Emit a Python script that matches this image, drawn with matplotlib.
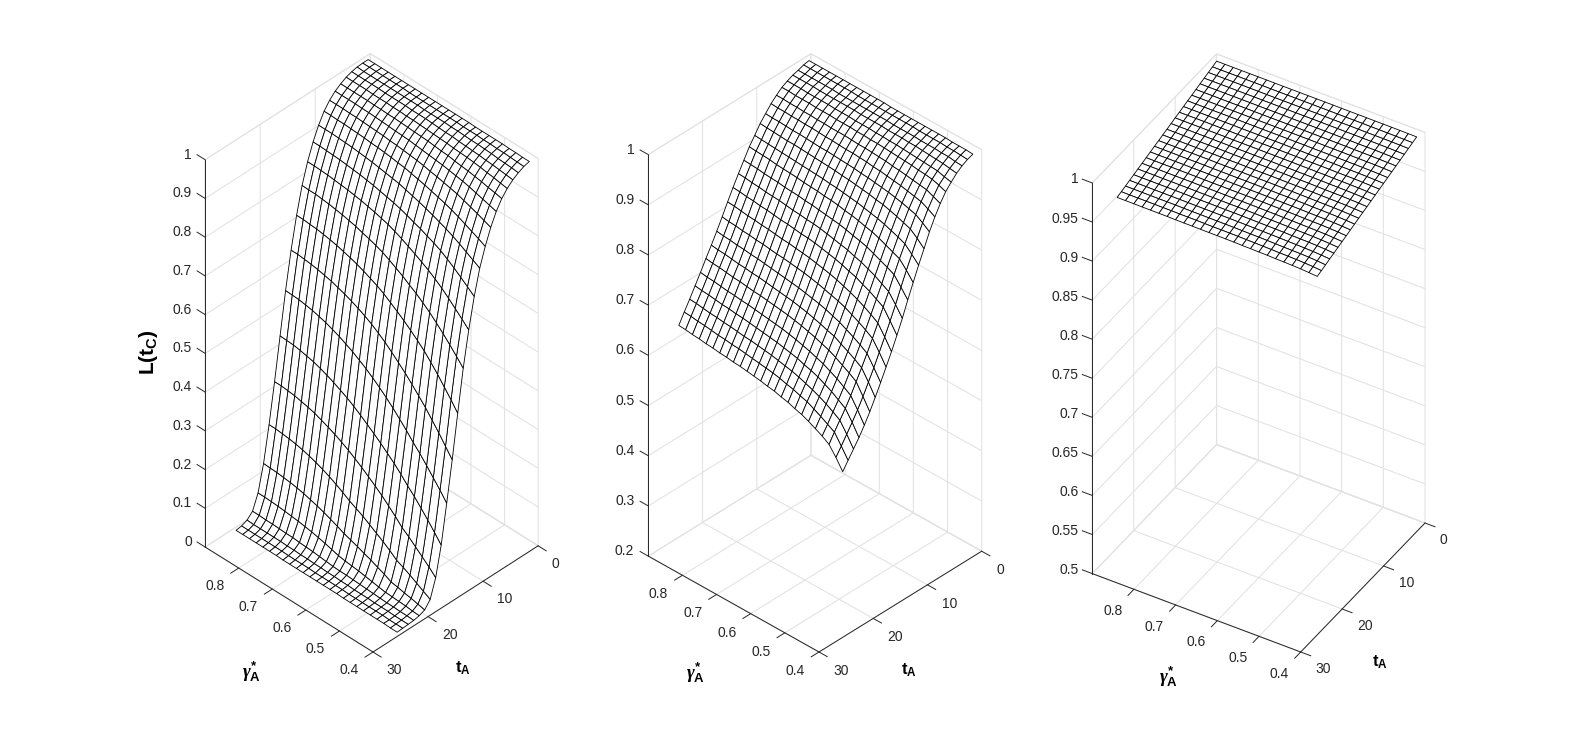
import numpy as np
import matplotlib
matplotlib.use("Agg")
import matplotlib.pyplot as plt
from matplotlib.artist import Artist
from matplotlib.transforms import Affine2D
from mpl_toolkits.mplot3d import proj3d

plt.rcParams['font.family'] = ['Liberation Sans', 'DejaVu Sans']
plt.rcParams['mathtext.fontset'] = 'custom'
plt.rcParams['mathtext.rm'] = 'Liberation Sans'
plt.rcParams['mathtext.bf'] = 'Liberation Sans:bold'
plt.rcParams['mathtext.it'] = 'Liberation Serif:italic:bold'

gamma_A = [0.41,0.43,0.45,0.47,0.49,0.51,0.53,0.55,0.57,0.59,0.61,0.63,0.65,0.67,0.69,0.71,0.73,0.75,0.77,0.79,0.81,0.83,0.85,0.87,0.89]
t_A = [1,2,3,4,5,6,7,8,9,10,11,12,13,14,15,16,17,18,19,20,21,22,23,24,25]

# rows: gamma_A, columns: t_A
L_left = [
[.996,.992,.985,.976,.963,.946,.922,.890,.850,.803,.739,.662,.572,.465,.354,.251,.152,.077,.030,.012,.006,.003,.002,.001,.000],
[.996,.993,.987,.978,.966,.950,.927,.897,.859,.813,.753,.679,.592,.489,.378,.274,.174,.094,.040,.016,.007,.004,.002,.001,.000],
[.997,.994,.988,.980,.969,.953,.932,.904,.867,.823,.767,.695,.611,.511,.402,.295,.195,.109,.050,.020,.009,.004,.002,.001,.001],
[.997,.995,.989,.982,.971,.957,.937,.910,.875,.833,.780,.711,.629,.533,.424,.316,.215,.124,.060,.023,.010,.005,.003,.002,.001],
[.998,.995,.991,.983,.974,.960,.942,.916,.883,.842,.792,.726,.646,.553,.446,.336,.234,.139,.069,.027,.011,.005,.003,.002,.001],
[.998,.996,.992,.985,.976,.963,.946,.922,.890,.850,.803,.739,.662,.572,.465,.354,.251,.152,.077,.030,.012,.006,.003,.002,.001],
[.998,.996,.993,.986,.978,.965,.949,.926,.896,.857,.812,.751,.676,.588,.484,.374,.270,.170,.091,.039,.015,.007,.004,.002,.001],
[.998,.997,.993,.987,.979,.967,.952,.930,.901,.864,.819,.761,.689,.603,.502,.392,.287,.186,.103,.046,.018,.008,.004,.002,.001],
[.998,.997,.994,.988,.980,.970,.955,.934,.906,.870,.827,.771,.700,.617,.518,.410,.302,.202,.114,.054,.021,.009,.004,.002,.001],
[.999,.997,.995,.990,.982,.971,.957,.937,.911,.876,.833,.780,.712,.630,.534,.426,.317,.216,.125,.060,.024,.010,.005,.003,.002],
[.999,.998,.995,.990,.983,.973,.959,.941,.915,.881,.840,.789,.722,.642,.549,.441,.331,.229,.136,.067,.026,.011,.005,.003,.002],
[.999,.998,.996,.991,.984,.975,.961,.944,.919,.886,.846,.797,.732,.654,.562,.455,.344,.242,.145,.073,.028,.011,.006,.003,.002],
[.999,.998,.996,.992,.985,.976,.963,.946,.923,.891,.851,.804,.741,.664,.574,.468,.357,.254,.154,.079,.031,.012,.006,.003,.002],
[.999,.998,.996,.993,.986,.977,.965,.948,.925,.894,.855,.809,.748,.672,.584,.479,.369,.265,.165,.087,.036,.014,.007,.003,.002],
[.999,.998,.996,.993,.987,.978,.966,.950,.928,.897,.859,.814,.754,.680,.593,.490,.380,.275,.175,.094,.041,.016,.007,.004,.002],
[.999,.998,.997,.993,.987,.979,.967,.951,.930,.900,.863,.818,.759,.687,.601,.499,.389,.284,.184,.101,.045,.018,.008,.004,.002],
[.999,.998,.997,.994,.988,.980,.968,.953,.932,.903,.866,.822,.765,.693,.608,.508,.398,.292,.192,.107,.049,.019,.008,.004,.002],
[.999,.998,.997,.994,.988,.980,.969,.954,.933,.905,.869,.825,.769,.698,.614,.515,.406,.299,.199,.112,.052,.020,.009,.004,.002],
[.999,.999,.997,.994,.989,.981,.970,.955,.935,.907,.871,.828,.773,.703,.620,.522,.413,.306,.205,.117,.055,.022,.009,.005,.003],
[.999,.999,.997,.994,.989,.981,.971,.956,.936,.909,.873,.830,.776,.707,.624,.527,.419,.311,.210,.121,.057,.022,.010,.005,.003],
[.999,.999,.997,.995,.989,.982,.971,.957,.937,.910,.875,.832,.779,.710,.628,.532,.423,.315,.214,.124,.059,.023,.010,.005,.003],
[.999,.999,.997,.995,.990,.982,.972,.957,.938,.911,.876,.834,.781,.713,.631,.535,.427,.319,.217,.126,.061,.024,.010,.005,.003],
[.999,.999,.997,.995,.990,.982,.972,.958,.938,.912,.877,.835,.783,.714,.633,.538,.430,.321,.219,.128,.062,.024,.010,.005,.003],
[.999,.999,.997,.995,.990,.982,.972,.958,.939,.912,.878,.836,.783,.716,.635,.539,.431,.323,.221,.129,.063,.025,.010,.005,.003],
[.999,.999,.998,.995,.990,.982,.972,.958,.939,.912,.878,.836,.784,.716,.635,.540,.432,.323,.221,.130,.063,.025,.011,.005,.003],
]

L_middle = [
[.994,.990,.984,.976,.965,.953,.936,.916,.893,.866,.840,.812,.784,.754,.727,.701,.677,.653,.630,.608,.588,.570,.554,.538,.522],
[.995,.991,.985,.978,.968,.958,.942,.924,.903,.879,.854,.829,.802,.774,.748,.723,.699,.675,.653,.631,.611,.593,.576,.559,.543],
[.995,.992,.987,.980,.972,.962,.948,.931,.912,.890,.867,.844,.819,.792,.768,.743,.719,.696,.674,.653,.632,.613,.596,.579,.561],
[.995,.992,.987,.981,.973,.964,.950,.934,.916,.895,.873,.850,.826,.800,.776,.752,.728,.705,.683,.662,.641,.622,.605,.587,.570],
[.996,.993,.988,.982,.974,.965,.952,.937,.920,.900,.878,.856,.832,.808,.784,.760,.736,.713,.691,.670,.650,.631,.613,.595,.577],
[.996,.993,.988,.983,.975,.967,.954,.940,.923,.904,.883,.862,.838,.814,.790,.767,.743,.720,.698,.678,.657,.638,.620,.602,.584],
[.996,.993,.988,.984,.976,.968,.956,.942,.926,.908,.887,.867,.844,.820,.797,.773,.750,.727,.706,.685,.664,.645,.626,.609,.590],
[.996,.993,.989,.984,.977,.969,.957,.944,.928,.910,.890,.870,.848,.824,.801,.778,.755,.732,.710,.690,.669,.650,.631,.613,.594],
[.996,.994,.989,.985,.978,.970,.959,.946,.930,.913,.893,.874,.851,.829,.806,.783,.759,.737,.715,.695,.674,.654,.636,.618,.599],
[.996,.994,.989,.985,.978,.971,.960,.947,.932,.915,.896,.877,.855,.832,.810,.787,.763,.741,.719,.699,.678,.659,.640,.621,.602],
[.996,.994,.989,.985,.979,.972,.961,.949,.933,.917,.898,.879,.858,.835,.813,.790,.767,.744,.723,.703,.682,.662,.643,.625,.606],
[.996,.994,.990,.986,.979,.972,.962,.950,.935,.919,.900,.882,.860,.838,.816,.793,.770,.747,.726,.706,.685,.665,.646,.628,.608],
[.996,.994,.990,.986,.980,.973,.962,.951,.936,.920,.902,.884,.862,.841,.819,.796,.773,.750,.729,.709,.688,.668,.649,.630,.611],
[.997,.994,.990,.986,.980,.973,.963,.951,.937,.922,.903,.885,.864,.843,.821,.798,.775,.752,.731,.711,.690,.670,.651,.632,.613],
[.997,.994,.990,.986,.980,.974,.964,.952,.938,.923,.905,.887,.866,.844,.822,.800,.777,.754,.733,.713,.692,.672,.653,.634,.615],
[.997,.994,.990,.987,.981,.974,.964,.953,.939,.924,.906,.888,.867,.846,.824,.802,.779,.756,.735,.715,.694,.674,.655,.636,.617],
[.997,.994,.990,.987,.981,.974,.964,.953,.939,.925,.907,.889,.869,.847,.826,.803,.780,.758,.737,.717,.696,.676,.656,.638,.618],
[.997,.995,.990,.987,.981,.975,.965,.954,.940,.926,.908,.891,.870,.849,.827,.805,.782,.760,.739,.718,.698,.678,.658,.639,.620],
[.997,.995,.990,.987,.982,.975,.965,.955,.941,.927,.909,.892,.871,.851,.829,.807,.784,.762,.740,.720,.699,.679,.660,.641,.621],
[.997,.995,.991,.987,.982,.975,.966,.955,.942,.928,.910,.893,.873,.852,.831,.808,.785,.763,.742,.722,.701,.681,.661,.642,.623],
[.997,.995,.991,.987,.982,.976,.966,.956,.942,.928,.911,.894,.874,.853,.832,.810,.787,.765,.743,.723,.702,.682,.663,.644,.624],
[.997,.995,.991,.988,.982,.976,.967,.956,.943,.929,.912,.896,.875,.855,.834,.811,.788,.766,.745,.725,.704,.684,.664,.646,.626],
[.997,.995,.991,.988,.983,.976,.967,.957,.944,.930,.913,.897,.877,.856,.835,.813,.790,.768,.747,.727,.706,.686,.666,.647,.627],
[.997,.995,.991,.988,.983,.977,.968,.957,.944,.931,.914,.898,.878,.858,.837,.815,.791,.769,.748,.728,.707,.687,.668,.649,.629],
[.997,.995,.991,.988,.983,.977,.968,.958,.945,.932,.915,.899,.879,.859,.838,.816,.793,.771,.750,.730,.709,.689,.669,.650,.630],
]

L_right = [
[.9977,.9958,.9938,.9919,.9899,.9880,.9861,.9841,.9822,.9803,.9783,.9764,.9744,.9725,.9706,.9686,.9667,.9647,.9628,.9609,.9589,.9570,.9550,.9531,.9512],
[.9978,.9959,.9940,.9921,.9902,.9883,.9864,.9845,.9826,.9807,.9788,.9769,.9750,.9731,.9712,.9693,.9674,.9655,.9636,.9617,.9598,.9579,.9560,.9541,.9521],
[.9979,.9960,.9942,.9923,.9904,.9885,.9867,.9848,.9829,.9810,.9792,.9773,.9754,.9735,.9717,.9698,.9679,.9660,.9642,.9623,.9604,.9585,.9567,.9548,.9529],
[.9980,.9961,.9943,.9924,.9906,.9887,.9868,.9850,.9831,.9813,.9794,.9775,.9757,.9738,.9720,.9701,.9682,.9664,.9645,.9627,.9608,.9589,.9571,.9552,.9533],
[.9980,.9962,.9943,.9925,.9906,.9888,.9869,.9851,.9832,.9814,.9795,.9777,.9758,.9740,.9721,.9703,.9684,.9666,.9647,.9629,.9610,.9592,.9573,.9555,.9536],
[.9980,.9962,.9943,.9925,.9906,.9888,.9870,.9851,.9833,.9814,.9796,.9778,.9759,.9741,.9722,.9704,.9686,.9667,.9649,.9630,.9612,.9594,.9575,.9557,.9538],
[.9981,.9963,.9944,.9926,.9908,.9890,.9871,.9853,.9835,.9816,.9798,.9780,.9761,.9743,.9725,.9707,.9688,.9670,.9652,.9633,.9615,.9597,.9578,.9560,.9542],
[.9981,.9963,.9945,.9926,.9908,.9890,.9872,.9854,.9835,.9817,.9799,.9781,.9763,.9744,.9726,.9708,.9690,.9672,.9653,.9635,.9617,.9599,.9581,.9562,.9544],
[.9981,.9963,.9945,.9927,.9909,.9891,.9872,.9854,.9836,.9818,.9800,.9782,.9764,.9746,.9728,.9710,.9691,.9673,.9655,.9637,.9619,.9601,.9583,.9565,.9546],
[.9981,.9963,.9945,.9927,.9909,.9891,.9873,.9854,.9836,.9818,.9800,.9782,.9764,.9746,.9728,.9710,.9692,.9674,.9656,.9638,.9620,.9602,.9584,.9566,.9547],
[.9982,.9964,.9946,.9928,.9910,.9892,.9874,.9856,.9838,.9820,.9802,.9784,.9766,.9748,.9730,.9712,.9694,.9676,.9658,.9640,.9622,.9604,.9586,.9568,.9550],
[.9982,.9964,.9946,.9928,.9910,.9892,.9874,.9856,.9838,.9820,.9802,.9784,.9766,.9749,.9731,.9713,.9695,.9677,.9659,.9641,.9623,.9605,.9587,.9569,.9551],
[.9982,.9964,.9946,.9928,.9910,.9893,.9875,.9857,.9839,.9821,.9803,.9785,.9767,.9749,.9731,.9714,.9696,.9678,.9660,.9642,.9624,.9606,.9588,.9570,.9552],
[.9982,.9964,.9946,.9928,.9910,.9893,.9875,.9857,.9839,.9821,.9803,.9785,.9767,.9749,.9731,.9714,.9696,.9678,.9660,.9642,.9624,.9606,.9588,.9570,.9552],
[.9982,.9964,.9946,.9928,.9911,.9893,.9875,.9857,.9839,.9821,.9803,.9785,.9768,.9750,.9732,.9714,.9696,.9678,.9660,.9643,.9625,.9607,.9589,.9571,.9553],
[.9982,.9964,.9946,.9929,.9911,.9893,.9875,.9857,.9840,.9822,.9804,.9786,.9768,.9751,.9733,.9715,.9697,.9679,.9662,.9644,.9626,.9608,.9590,.9573,.9554],
[.9982,.9964,.9946,.9929,.9911,.9893,.9875,.9857,.9840,.9822,.9804,.9786,.9768,.9751,.9733,.9715,.9697,.9679,.9662,.9644,.9626,.9608,.9590,.9573,.9554],
[.9982,.9964,.9946,.9929,.9911,.9893,.9875,.9858,.9840,.9822,.9804,.9786,.9769,.9751,.9733,.9715,.9698,.9680,.9662,.9644,.9626,.9609,.9591,.9573,.9555],
[.9983,.9965,.9947,.9930,.9912,.9894,.9876,.9859,.9841,.9823,.9806,.9788,.9770,.9752,.9735,.9717,.9699,.9681,.9664,.9646,.9628,.9610,.9593,.9575,.9557],
[.9983,.9965,.9947,.9930,.9912,.9894,.9876,.9859,.9841,.9823,.9806,.9788,.9770,.9752,.9735,.9717,.9699,.9681,.9664,.9646,.9628,.9610,.9593,.9575,.9557],
[.9983,.9965,.9948,.9930,.9912,.9894,.9877,.9859,.9841,.9824,.9806,.9788,.9770,.9753,.9735,.9717,.9700,.9682,.9664,.9646,.9629,.9611,.9593,.9576,.9558],
[.9983,.9965,.9948,.9930,.9912,.9894,.9877,.9859,.9841,.9824,.9806,.9788,.9770,.9753,.9735,.9717,.9700,.9682,.9664,.9646,.9629,.9611,.9593,.9576,.9558],
[.9983,.9965,.9948,.9930,.9912,.9895,.9877,.9859,.9842,.9824,.9806,.9789,.9771,.9753,.9736,.9718,.9700,.9682,.9665,.9647,.9629,.9612,.9594,.9576,.9559],
[.9983,.9965,.9948,.9930,.9912,.9895,.9877,.9859,.9842,.9824,.9806,.9789,.9771,.9753,.9736,.9718,.9700,.9682,.9665,.9647,.9629,.9612,.9594,.9576,.9559],
[.9983,.9965,.9948,.9930,.9913,.9895,.9877,.9860,.9842,.9824,.9807,.9789,.9771,.9754,.9736,.9719,.9701,.9683,.9666,.9648,.9630,.9613,.9595,.9578,.9560],
]

gamma_ticks = [0.4,0.5,0.6,0.7,0.8]
gamma_ticklabels = ['0.4','0.5','0.6','0.7','0.8']
t_ticks = [0,10,20,30]
t_ticklabels = ['0','10','20','30']
z_ticks_left = [0,.1,.2,.3,.4,.5,.6,.7,.8,.9,1]
z_labels_left = ['0','0.1','0.2','0.3','0.4','0.5','0.6','0.7','0.8','0.9','1']
z_ticks_middle = [.2,.3,.4,.5,.6,.7,.8,.9,1]
z_labels_middle = ['0.2','0.3','0.4','0.5','0.6','0.7','0.8','0.9','1']
z_ticks_right = [.5,.55,.6,.65,.7,.75,.8,.85,.9,.95,1]
z_labels_right = ['0.5','0.55','0.6','0.65','0.7','0.75','0.8','0.85','0.9','0.95','1']

FW, FH = 1579, 732
DARK = '#262626'
GRID = '#e2e2e2'
plt.rcParams['grid.color'] = GRID
plt.rcParams['grid.linewidth'] = 0.75

fig = plt.figure(figsize=(FW/100, FH/100), dpi=100, facecolor='white')

def project(ax, g, t, z):
    xs, ys, _z = proj3d.proj_transform(g, t, z, ax.get_proj())
    return ax.transData.transform((xs, ys))

def panel(Z, zt, zl, elev, azim, box, left, right, bottom):
    ax = fig.add_axes([0.1, 0.1, 0.3, 0.3], projection='3d', proj_type='ortho')
    ax.patch.set_visible(False)
    ax.view_init(elev=elev, azim=azim)
    ax.set_box_aspect(box)
    ax.set_xlim(0.4, 0.9, view_margin=0)
    ax.set_ylim(0, 30, view_margin=0)
    ax.set_zlim(zt[0], zt[-1], view_margin=0)
    G, T = np.meshgrid(gamma_A, t_A, indexing='ij')
    surf = ax.plot_surface(G, T, np.array(Z), rstride=1, cstride=1, color='white',
                           edgecolor='black', linewidth=0.6, shade=False, antialiased=True)
    surf.set_clip_on(False)
    ax.set_xticks(gamma_ticks, gamma_ticklabels)
    ax.set_yticks(t_ticks, t_ticklabels)
    ax.set_zticks(zt, zl)
    # z axis on the left corner, ticks pointing along gamma
    ax.zaxis.set_ticks_position('upper')
    ax.zaxis._get_tickdir = lambda position: 0
    for a, out in ((ax.xaxis, -0.6), (ax.yaxis, -0.6), (ax.zaxis, 0.6)):
        a.set_pane_color((1, 1, 1, 1))
        a.pane.set_edgecolor(GRID)
        a.pane.set_linewidth(0.75)
        a.line.set_color(DARK)
        a.line.set_linewidth(0.7)
        a._axinfo['tick']['inward_factor'] = 0
        a._axinfo['tick']['outward_factor'] = out
        a._axinfo['tick']['linewidth'] = {True: 0.7, False: 0.7}
        a.set_tick_params(colors=DARK, labelsize=10, pad=0, color=DARK, width=0.7)
    # place the box so its corners land on the reference's pixels
    W, x0, y0 = 500.0, 100.0, 100.0
    for _ in range(4):
        ax.set_position([x0/FW, y0/FH, W/FW, W/FH])
        ax.apply_aspect()
        pl, pr = project(ax, 0.9, 30, zt[0]), project(ax, 0.4, 0, zt[0])
        W *= (right[0]-left[0])/(pr[0]-pl[0])
        ax.set_position([x0/FW, y0/FH, W/FW, W/FH])
        ax.apply_aspect()
        pb = project(ax, 0.4, 30, zt[0])
        x0 += bottom[0]-pb[0]
        y0 += (FH-bottom[1])-pb[1]
    ax.set_position([x0/FW, y0/FH, W/FW, W/FH])
    ax.apply_aspect()
    return ax

def prepare_labels(axis, ha):
    """Tick labels get an extra pixel offset that survives mplot3d's redraws."""
    out = []
    for tick in axis.get_major_ticks():
        lab = tick.label1
        lab.set_ha(ha)
        lab.set_va('center')
        off = Affine2D()
        lab.set_transform = (lambda l, o: (lambda tr: Artist.set_transform(l, tr + o)))(lab, off)
        lab.set_transform(axis.axes.transData)
        out.append((tick, lab, off))
    return out

def shift_labels(ax, items, root_of, dx, dy):
    for tick, lab, off in items:
        anchor = ax.transData.transform(lab.get_position())
        root = root_of(tick.get_loc())
        off.clear().translate(root[0]+dx-anchor[0], root[1]-dy-anchor[1])

ax1 = panel(L_left, z_ticks_left, z_labels_left, 39.35, 134.6, (235.5, 235, 500.4),
            (205, 547), (538, 546), (373, 652))
ax2 = panel(L_middle, z_ticks_middle, z_labels_middle, 36.15, 133.6, (235.7, 235.9, 497.2),
            (648.3, 556), (981.7, 551), (819, 652))
ax3 = panel(L_right, z_ticks_right, z_labels_right, 38.67, 121.05, (243.3, 241, 500.4),
            (1092.3, 573), (1425, 523), (1300.7, 652))

offsets = [
    (ax1, (-14.3, 18.4), (13.7, 18.0), (-13.3, -5.0)),
    (ax2, (-14.3, 19.0), (14.4, 18.7), (-14.0, -5.0)),
    (ax3, (-11.5, 21.7), (15.0, 17.3), (-14.0, -3.5)),
]
prepared = []
for ax, xo, yo, zo in offsets:
    prepared.append((ax, xo, yo, zo,
                     prepare_labels(ax.xaxis, 'right'),
                     prepare_labels(ax.yaxis, 'left'),
                     prepare_labels(ax.zaxis, 'right')))
fig.canvas.draw()
for ax, xo, yo, zo, xl, yl, zl in prepared:
    z0 = ax.get_zlim()[0]
    shift_labels(ax, xl, lambda v, a=ax, z=z0: project(a, v, 30, z), *xo)
    shift_labels(ax, yl, lambda v, a=ax, z=z0: project(a, 0.4, v, z), *yo)
    shift_labels(ax, zl, lambda v, a=ax: project(a, 0.9, 30, v), *zo)

def lab(x, y, s, **kw):
    fig.text(x/FW, 1-y/FH, s, ha='center', va='center', color='black', **kw)

gamma_label = r'$\mathit{\gamma}_{\mathbf{A}}^{\mathbf{*}}$'
t_label = r'$\mathbf{t_A}$'
for gx, gy, tx, ty in [(251, 672, 463, 668), (695, 673, 909, 670), (1168, 677, 1380, 662)]:
    lab(gx, gy, gamma_label, fontsize=13.5)
    lab(tx, ty, t_label, fontsize=12)
lab(148, 352, r'$\mathbf{L(t_C)}$', fontsize=15, rotation=90)

fig.savefig('out.png', dpi=100, facecolor='white')
